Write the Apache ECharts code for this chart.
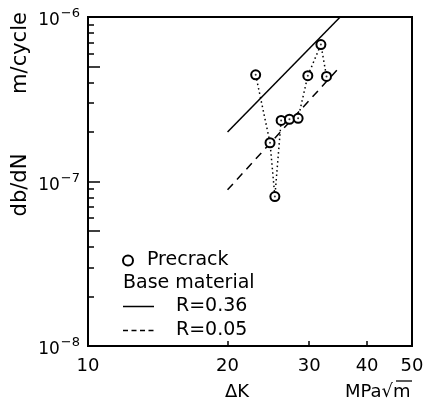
<!DOCTYPE html>
<html><head><meta charset="utf-8">
<script src="https://cdn.jsdelivr.net/npm/echarts@6/dist/echarts.min.js"></script>
<style>html,body{margin:0;padding:0;background:#fff}#c{width:427px;height:401px}</style>
</head><body><div id="c"></div>
<script>
// Data
const precrackK = [23.0, 24.7, 25.3, 26.1, 27.2, 28.4, 29.8, 31.8, 32.7];
const precrackRate = [4.45e-7, 1.72e-7, 8.1e-8, 2.35e-7, 2.39e-7, 2.42e-7, 4.4e-7, 6.8e-7, 4.35e-7];
const r36K = [20, 35];
const r36Rate = [2.0e-7, 1.0e-6];
const r05K = [20, 35];
const r05Rate = [8.9e-8, 5.0e-7];
const xLabels = [10, 20, 30, 40, 50];
const xTickVals = [20, 30, 40];
const yLabels = [1e-8, 1e-7, 1e-6];
const yLongTicks = [1e-8, 5e-8, 1e-7, 5e-7, 1e-6];
const yShortTicks = [2e-8, 3e-8, 4e-8, 6e-8, 7e-8, 8e-8, 9e-8, 2e-7, 3e-7, 4e-7, 6e-7, 7e-7, 8e-7, 9e-7];

const FONT = 'DejaVu Sans';
const zip = (a, b) => a.map((v, i) => [v, b[i]]);

const SOLID_ICON = 'path://M0,0h0.01v0.01h-0.01Z M30.99,11.99h0.01v0.01h-0.01Z M0,5.3H31V6.7H0Z';
const DASH_ICON = 'path://M0,0h0.01v0.01h-0.01Z M30.99,11.99h0.01v0.01h-0.01Z M0,5.3h5v1.4h-5Z M8.5,5.3h5v1.4h-5Z M17,5.3h5v1.4h-5Z M25.5,5.3h5v1.4h-5Z';

const chart = echarts.init(document.getElementById('c'), null, {renderer: 'canvas'});
const yBase = {type: 'log', logBase: 10, min: 1e-8, max: 1e-6, position: 'left', splitLine: {show: false}, minorTick: {show: false}};
const option = {
  animation: false,
  backgroundColor: '#fff',
  grid: {left: 88, right: 15, top: 17, bottom: 55, show: true, borderColor: '#000', borderWidth: 2, backgroundColor: 'transparent'},
  xAxis: [{
    type: 'log', logBase: 10, min: 10, max: 50,
    axisLine: {lineStyle: {color: '#000', width: 2}},
    axisTick: {inside: true, length: 5, lineStyle: {color: '#000', width: 1.5}, customValues: xTickVals},
    axisLabel: {color: '#000', fontFamily: FONT, fontSize: 18, margin: 11, customValues: xLabels},
    splitLine: {show: false}
  }],
  yAxis: [
    Object.assign({}, yBase, {
      axisLine: {lineStyle: {color: '#000', width: 2}},
      axisTick: {inside: true, length: 12, lineStyle: {color: '#000', width: 1.5}, customValues: yLongTicks},
      axisLabel: {
        margin: 8, customValues: yLabels,
        formatter: v => '{b|10}{s|−' + Math.abs(Math.round(Math.log10(v))) + '}',
        rich: {
          b: {fontFamily: FONT, fontSize: 17, color: '#000', padding: [8, 0, 0, 0]},
          s: {fontFamily: FONT, fontSize: 13, color: '#000', padding: [0, 0, 6, 1]}
        }
      }
    }),
    Object.assign({}, yBase, {
      axisLine: {show: false},
      axisTick: {inside: true, length: 6, lineStyle: {color: '#000', width: 1.5}, customValues: yShortTicks},
      axisLabel: {show: false}
    })
  ],
  legend: [
    {
      data: [{name: 'Precrack', icon: 'emptyCircle'}],
      left: 122, top: 251, padding: 0, orient: 'vertical', itemWidth: 10, itemHeight: 10,
      textStyle: {fontFamily: FONT, fontSize: 19, lineHeight: 18, color: '#000', padding: [0, 0, 0, 9]},
      selectedMode: false
    },
    {
      data: [{name: 'R=0.36', icon: SOLID_ICON}, {name: 'R=0.05', icon: DASH_ICON}],
      left: 123, top: 297, padding: 0, orient: 'vertical', itemWidth: 31, itemHeight: 12, itemGap: 5,
      textStyle: {fontFamily: FONT, fontSize: 19, lineHeight: 18, color: '#000', padding: [0, 0, 0, 17]},
      selectedMode: false
    }
  ],
  graphic: [
    {type: 'text', left: 123, top: 274, style: {text: 'Base material', font: '19px "DejaVu Sans"', fill: '#000'}},
    {type: 'text', x: 21, y: 53, rotation: Math.PI / 2, style: {text: 'm/cycle', font: '21px "DejaVu Sans"', fill: '#000', align: 'center', verticalAlign: 'middle'}},
    {type: 'text', x: 21, y: 185, rotation: Math.PI / 2, style: {text: 'db/dN', font: '21px "DejaVu Sans"', fill: '#000', align: 'center', verticalAlign: 'middle'}},
    {type: 'text', x: 237, y: 392, style: {text: 'ΔK', font: '18px "DejaVu Sans"', fill: '#000', align: 'center', verticalAlign: 'middle'}},
    {type: 'text', x: 345, y: 392, style: {text: 'MPa√m', font: '18px "DejaVu Sans"', fill: '#000', align: 'left', verticalAlign: 'middle'}},
    {type: 'line', shape: {x1: 396, y1: 381, x2: 412, y2: 381}, style: {stroke: '#000', lineWidth: 1.3}}
  ],
  series: [
    {
      name: 'R=0.36', type: 'line', data: zip(r36K, r36Rate), symbol: 'none',
      lineStyle: {color: '#000', width: 1.5, type: 'solid'}, itemStyle: {color: '#000'}, z: 2
    },
    {
      name: 'R=0.05', type: 'line', data: zip(r05K, r05Rate), symbol: 'none',
      lineStyle: {color: '#000', width: 1.5, type: [8, 6]}, itemStyle: {color: '#000'}, z: 2
    },
    {
      name: 'Precrack', type: 'line', data: zip(precrackK, precrackRate),
      symbol: 'emptyCircle', symbolSize: 9,
      lineStyle: {color: '#000', width: 1.5, type: [1.5, 3]},
      itemStyle: {color: '#000', borderColor: '#000', borderWidth: 1.6}, z: 3
    },
    {
      name: 'center', type: 'scatter', data: zip(precrackK, precrackRate),
      symbol: 'circle', symbolSize: 2, itemStyle: {color: '#000'}, z: 4, silent: true
    }
  ]
};
chart.setOption(option);
</script></body></html>
